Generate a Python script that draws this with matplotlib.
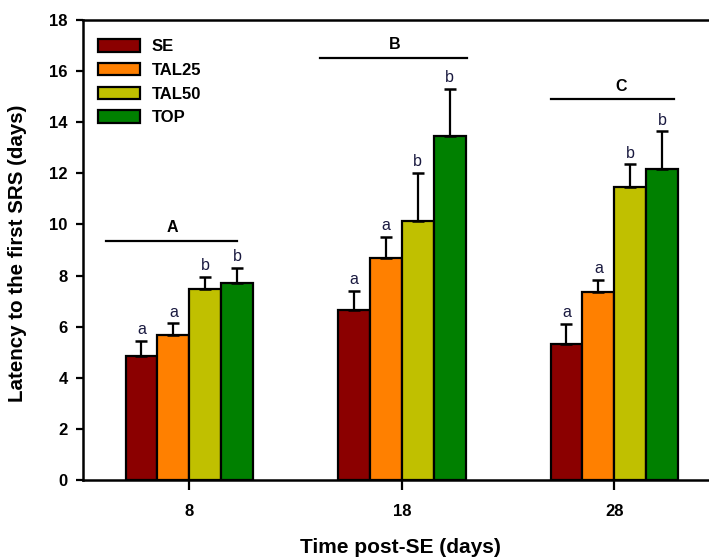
import matplotlib
matplotlib.use("Agg")
import matplotlib.pyplot as plt
import numpy as np

plt.rcParams['font.family'] = ['Liberation Sans', 'DejaVu Sans']

days = [8, 18, 28]
series = ["SE", "TAL25", "TAL50", "TOP"]
colors = ["#8B0000", "#FF8000", "#C0C000", "#008000"]
means = {
    "SE":    [4.85, 6.65, 5.34],
    "TAL25": [5.67, 8.68, 7.34],
    "TAL50": [7.48, 10.14, 11.48],
    "TOP":   [7.69, 13.48, 12.18],
}
errs = {
    "SE":    [0.59, 0.74, 0.78],
    "TAL25": [0.46, 0.83, 0.50],
    "TAL50": [0.46, 1.87, 0.87],
    "TOP":   [0.61, 1.81, 1.46],
}
letters = {
    "SE":    ["a", "a", "a"],
    "TAL25": ["a", "a", "a"],
    "TAL50": ["b", "b", "b"],
    "TOP":   ["b", "b", "b"],
}
group_labels = ["A", "B", "C"]
group_label_x = [7.2, 17.67, 28.32]
group_line_y = [9.37, 16.53, 14.9]
group_line_x = [(4.1, 10.25), (14.15, 21.05), (25.0, 30.8)]

W, H = 709, 557
fig = plt.figure(figsize=(W/100, H/100), dpi=100)
ax = fig.add_axes([83/W, 1-480/H, 637.5/W, 460/H])

bw = 1.5
offsets = [-1.5*bw, -0.5*bw, 0.5*bw, 1.5*bw]
for s, c, off in zip(series, colors, offsets):
    x = np.array(days) + off
    ax.bar(x, means[s], width=bw, color=c, edgecolor='black', linewidth=1.6,
           label=s, zorder=2)
    ax.errorbar(x, means[s], yerr=[np.zeros(3), errs[s]], fmt='none',
                ecolor='black', elinewidth=1.6, capsize=4, capthick=1.8, zorder=3)
    for xi, m, e, l in zip(x, means[s], errs[s], letters[s]):
        ax.text(xi, m + e + 0.15, l, ha='center', va='bottom', fontsize=11.5,
                color='#1a1a40')

for lab, lx, yv, (x0, x1) in zip(group_labels, group_label_x, group_line_y, group_line_x):
    ax.plot([x0, x1], [yv, yv], color='black', lw=1.6, clip_on=False)
    ax.text(lx, yv + 0.22, lab, ha='center', va='bottom',
            fontsize=11.5, fontweight='bold')

ax.set_xlim(3, 33)
ax.set_ylim(0, 18)
ax.set_xticks(days)
ax.set_xticklabels([str(d) for d in days], fontsize=12, fontweight='bold')
ax.set_yticks(np.arange(0, 19, 2))
ax.set_yticklabels([str(v) for v in range(0, 19, 2)], fontsize=12, fontweight='bold')
ax.tick_params(axis='y', length=5, width=1.6, pad=6)
ax.tick_params(axis='x', length=7, width=1.6, pad=10.5)
ax.spines['right'].set_visible(False)
for sp in ['left', 'bottom', 'top']:
    ax.spines[sp].set_linewidth(1.8)

fig.text(18/W, 1-253/H, "Latency to the first SRS (days)", rotation=90,
         ha='center', va='center', fontsize=14.8, fontweight='bold')
fig.text(400/W, 1-538/H, "Time post-SE (days)", ha='center', va='top',
         fontsize=15, fontweight='bold')

leg = ax.legend(loc='upper left', bbox_to_anchor=(0.024, 0.958), frameon=False,
                prop={'weight': 'bold', 'size': 12}, handlelength=2.5,
                handleheight=0.75, labelspacing=0.52, handletextpad=0.7,
                borderpad=0, borderaxespad=0)
for p in leg.get_patches():
    p.set_linewidth(1.6)

fig.savefig("out.png", dpi=100)
